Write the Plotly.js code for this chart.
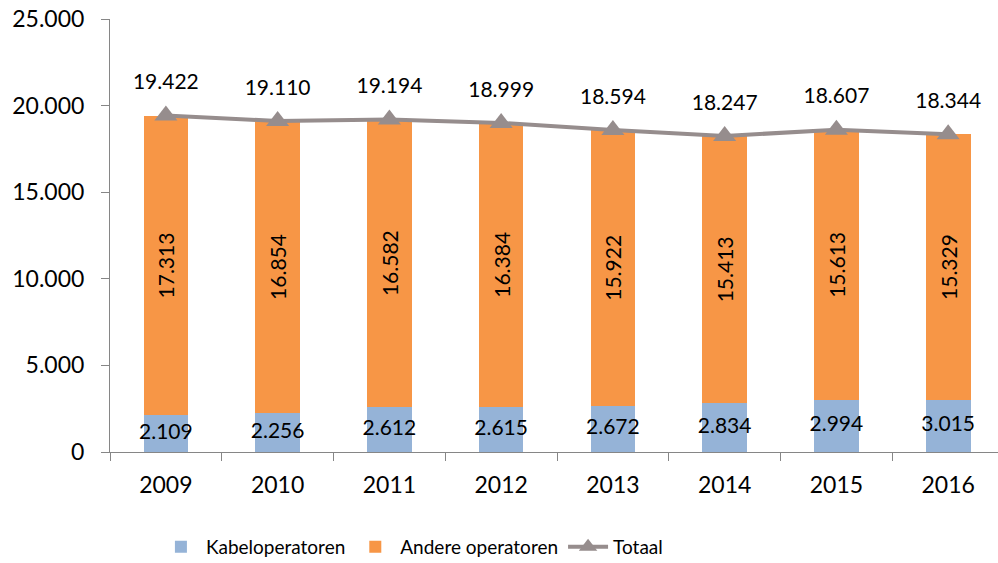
<!DOCTYPE html>
<html>
<head>
<meta charset="utf-8">
<script src="https://cdn.plot.ly/plotly-3.0.1.min.js"></script>
<style>html,body{margin:0;padding:0;background:#fff;}#chart{width:998px;height:563px;}</style>
</head>
<body>
<div id="chart"></div>
<script>
var years = ['2009','2010','2011','2012','2013','2014','2015','2016'];
var kabeloperatoren = [2109, 2256, 2612, 2615, 2672, 2834, 2994, 3015];
var andereOperatoren = [17313, 16854, 16582, 16384, 15922, 15413, 15613, 15329];
var totaal = [19422, 19110, 19194, 18999, 18594, 18247, 18607, 18344];
var yTicks = [0, 5000, 10000, 15000, 20000, 25000];

var FONT = 'Lato';
function fmt(v){ return v.toString().replace(/\B(?=(\d{3})+(?!\d))/g, '.'); }

var traces = [
  {
    type: 'bar', name: 'Kabeloperatoren', x: years, y: kabeloperatoren,
    marker: {color: '#95B3D7'}, width: 0.4, hoverinfo: 'none'
  },
  {
    type: 'bar', name: 'Andere operatoren', x: years, y: andereOperatoren,
    marker: {color: '#F79646'}, width: 0.4,
    text: andereOperatoren.map(fmt), textposition: 'inside', insidetextanchor: 'middle',
    textangle: -90, constraintext: 'none',
    textfont: {family: FONT, size: 21, color: '#000'}, hoverinfo: 'none'
  },
  {
    type: 'scatter', mode: 'lines+markers', name: 'Totaal', x: years, y: totaal,
    line: {color: '#968D8D', width: 4},
    marker: {symbol: 'triangle-up', size: 20, color: '#968D8D'}, hoverinfo: 'none'
  },
  {
    type: 'scatter', mode: 'markers+text', x: years, y: totaal, text: totaal.map(fmt),
    marker: {size: 32, color: 'rgba(0,0,0,0)'},
    textposition: 'top center', showlegend: false, hoverinfo: 'none',
    textfont: {family: FONT, size: 21, color: '#000'}
  },
  {
    type: 'scatter', mode: 'text', x: years, y: kabeloperatoren.map(function(v){ return v / 2; }),
    text: kabeloperatoren.map(fmt), textposition: 'middle center', showlegend: false, hoverinfo: 'none',
    textfont: {family: FONT, size: 21, color: '#000'}
  }
];

var layout = {
  width: 998, height: 563,
  margin: {l: 110, r: 0, t: 19, b: 111, autoexpand: false},
  paper_bgcolor: '#fff', plot_bgcolor: '#fff',
  separators: ',.',
  barmode: 'stack',
  showlegend: true,
  font: {family: FONT, size: 20, color: '#000'},
  xaxis: {
    type: 'category', range: [-0.5, 7.446], tickson: 'boundaries',
    ticks: 'outside', ticklen: 8, tickcolor: '#868686', tickwidth: 1,
    showline: true, linecolor: '#868686', linewidth: 1,
    showgrid: false, zeroline: false, automargin: false,
    tickfont: {family: FONT, size: 23, color: '#000'}, ticklabelstandoff: 12
  },
  yaxis: {
    range: [0, 25000], tickmode: 'array', tickvals: yTicks, ticktext: yTicks.map(fmt),
    ticks: 'outside', ticklen: 8, tickcolor: '#868686', tickwidth: 1,
    showline: true, linecolor: '#868686', linewidth: 1,
    showgrid: false, zeroline: false, automargin: false,
    tickfont: {family: FONT, size: 23, color: '#000'}, ticklabelstandoff: 12
  },
  legend: {
    orientation: 'h', x: 0.34, xanchor: 'center', y: -0.219, yanchor: 'middle',
    font: {family: FONT, size: 19, color: '#000'}, traceorder: 'normal',
    itemwidth: 40
  }
};

Plotly.newPlot('chart', traces, layout, {displayModeBar: false, staticPlot: true});
</script>
</body>
</html>
